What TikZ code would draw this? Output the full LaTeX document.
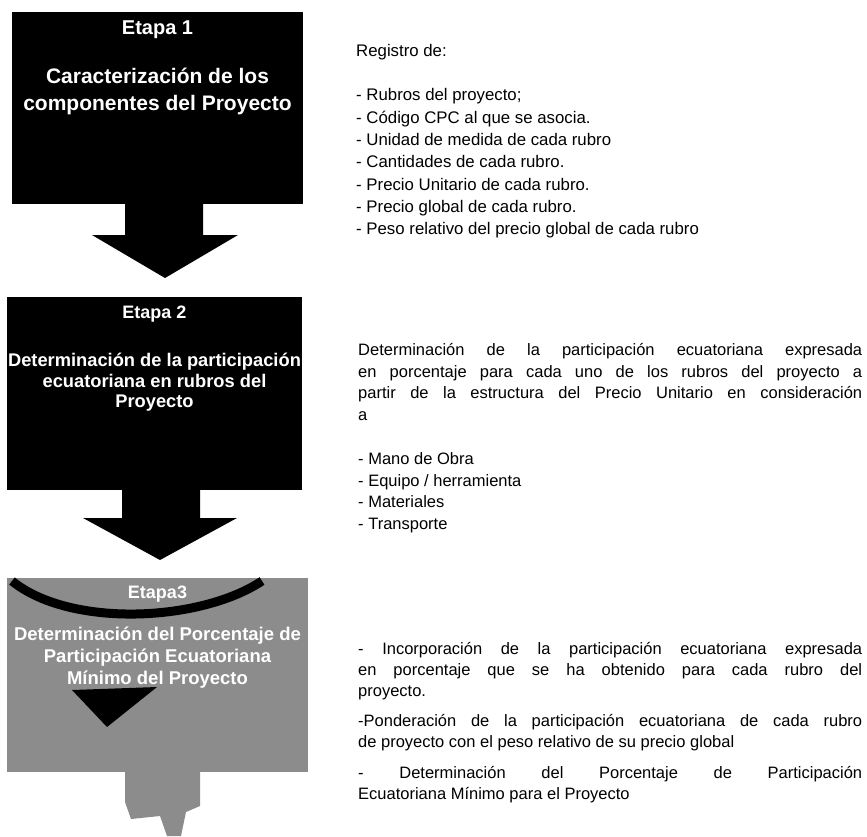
\documentclass[tikz,border=0pt]{standalone}
\usepackage{fontspec}
\setmainfont{Liberation Sans}
\usetikzlibrary{positioning}
\definecolor{gristrama}{RGB}{140,140,140}
\newcommand\jlin[1]{\makebox[504pt][s]{#1}}

\begin{document}
\begin{tikzpicture}[x=1pt,y=-1pt,
    caja/.style={inner sep=0pt, outer sep=0pt, anchor=north west},
    etiq/.style={text=white, inner sep=0pt, font=\bfseries\fontsize{#1}{#1}\selectfont},
    titulo/.style={text=white, inner sep=0pt, align=center, anchor=north},
    nota/.style={anchor=north west, inner sep=0pt, align=left}]
    \useasboundingbox (0,0) rectangle (867,836);
    % etapas
    \node[caja, fill=black, minimum width=291pt, minimum height=192pt] (e1) at (12,12) {};
    \node[caja, fill=black, minimum width=295pt, minimum height=193pt] (e2) at (7,297) {};
    \node[caja, fill=gristrama, minimum width=301pt, minimum height=194pt] (e3) at (7,578) {};
    % flechas
    \coordinate (p1) at (165,278);
    \coordinate (p2) at (160,560);
    \fill (125,204) -- (203,204) -- (203,235) -- (238,235) -- (p1) -- (92,235) -- (125,235) -- cycle;
    \fill (122,490) -- (200,490) -- (200,518) -- (237,518) -- (p2) -- (83,518) -- (122,518) -- cycle;
    \fill[gristrama] (125,772) -- (200,772) -- (200,806) -- (186,812) -- (181,836) -- (167,836)
      -- (160,816) -- (131,819) -- (125,802) -- cycle;
    % restos del escaneo en la etapa 3
    \draw[line width=9pt] (12,581) .. controls (70,628) and (200,622) .. (262,581);
    \fill (72,690) -- (157,687) -- (107,727) -- cycle;
    % textos de las etapas
    \node[etiq=20, anchor=base] (t1) at (157.5,34) {Etapa 1};
    \node[titulo, font=\bfseries\fontsize{21}{27}\selectfont] (d1) at (157.5,67.5)
      {Caracterización de los\\componentes del Proyecto};
    \node[etiq=18, anchor=base] (t2) at (154.5,318.5) {Etapa 2};
    \node[titulo, font=\bfseries\fontsize{18.3}{20.5}\selectfont] (d2) at (154.5,353)
      {Determinación de la participación\\ecuatoriana en rubros del\\Proyecto};
    \node[etiq=18, anchor=base] (t3) at (157.5,598.5) {Etapa3};
    \node[titulo, font=\bfseries\fontsize{18.5}{22}\selectfont] (d3) at (157.5,627)
      {Determinación del Porcentaje de\\Participación Ecuatoriana\\Mínimo del Proyecto};
    % descripciones
    \node[nota, font=\fontsize{16.8}{22.3}\selectfont] (registro) at (356,44)
      {Registro de:\\[22.3pt]
       - Rubros del proyecto;\\
       - Código CPC al que se asocia.\\
       - Unidad de medida de cada rubro\\
       - Cantidades de cada rubro.\\
       - Precio Unitario de cada rubro.\\
       - Precio global de cada rubro.\\
       - Peso relativo del precio global de cada rubro};
    \node[nota, font=\fontsize{16.5}{21.8}\selectfont] (participacion) at (358,343)
      {\jlin{Determinación de la participación ecuatoriana expresada}\\
       \jlin{en porcentaje para cada uno de los rubros del proyecto a}\\
       \jlin{partir de la estructura del Precio Unitario en consideración}\\
       a\\[21.8pt]
       - Mano de Obra\\
       - Equipo / herramienta\\
       - Materiales\\
       - Transporte};
    \node[nota, font=\fontsize{16.5}{21}\selectfont] (ponderacion) at (358,642)
      {\jlin{- Incorporación de la participación ecuatoriana expresada}\\
       \jlin{en porcentaje que se ha obtenido para cada rubro del}\\
       proyecto.\\[9pt]
       \jlin{-Ponderación de la participación ecuatoriana de cada rubro}\\
       de proyecto con el peso relativo de su precio global\\[10pt]
       \jlin{- Determinación del Porcentaje de Participación}\\
       Ecuatoriana Mínimo para el Proyecto};
\end{tikzpicture}
\end{document}
